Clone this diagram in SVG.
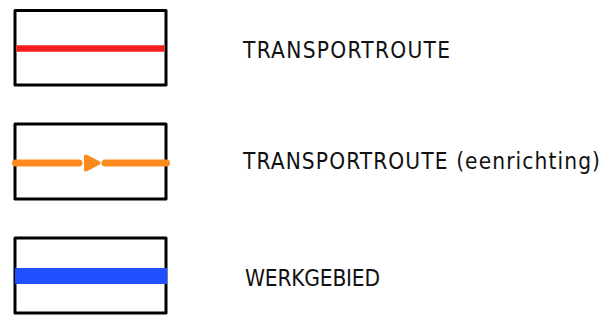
<svg xmlns="http://www.w3.org/2000/svg" width="611" height="326" viewBox="0 0 611 326">
<style>
.box{fill:#fff;stroke:#000;stroke-width:3;stroke-linejoin:round}
.lbl{font-family:"DejaVu Sans Condensed","DejaVu Sans",sans-serif;font-size:22.5px;fill:#111}
</style>
<rect width="611" height="326" fill="#fff"/>
<g id="legend-transportroute">
<rect class="box" x="15" y="10.5" width="151" height="74.5"/>
<line x1="16.5" y1="48.5" x2="164.5" y2="48.5" stroke="#f41c1c" stroke-width="6.5"/>
<text class="lbl" x="243" y="58" textLength="207" lengthAdjust="spacing">TRANSPORTROUTE</text>
</g>
<g id="legend-eenrichting">
<rect class="box" x="15" y="124" width="151" height="75"/>
<g stroke="#fc8a1c" stroke-width="7" stroke-linecap="round" fill="#fc8a1c">
<line x1="15.5" y1="163" x2="79" y2="163"/>
<line x1="105" y1="163" x2="166.5" y2="163"/>
<path d="M86 156.5 L98.5 163 L86 169.5 Z" stroke-linejoin="round" stroke-width="4"/>
</g>
<text class="lbl" x="243" y="169" textLength="357" lengthAdjust="spacing">TRANSPORTROUTE (eenrichting)</text>
</g>
<g id="legend-werkgebied">
<rect class="box" x="15" y="238" width="151" height="75"/>
<rect x="15" y="268" width="152" height="16" fill="#1e50ff"/>
<text class="lbl" x="245" y="286" textLength="135" lengthAdjust="spacing">WERKGEBIED</text>
</g>
</svg>
